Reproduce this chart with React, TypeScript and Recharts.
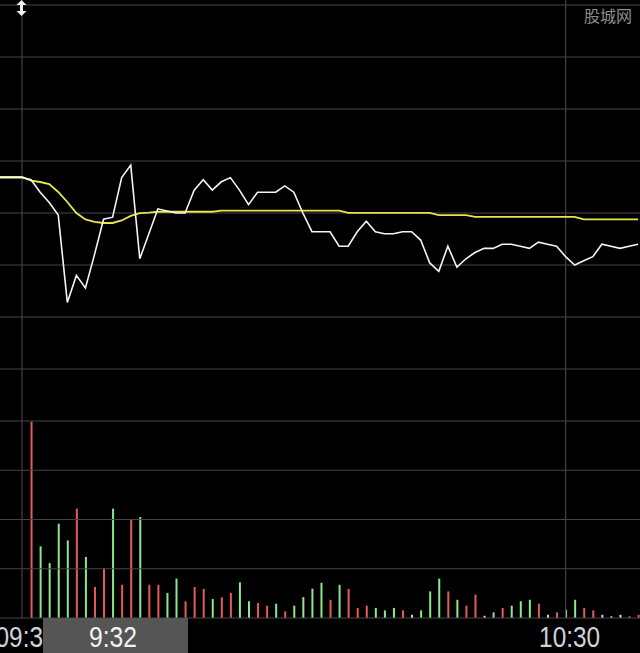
import React from "react";
import {
  ComposedChart,
  Line,
  Bar,
  Cell,
  XAxis,
  YAxis,
  ReferenceLine,
  ReferenceDot,
  Customized,
} from "recharts";

// ---- data ----
const preOpenMinute = -3; // minute offset (from 09:30) of the pre-open point
const priceTicks = [24, 24.25, 24.5, 24.75, 25, 25.25, 25.5, 25.75, 26];
const volumeTicks = [0, 1000, 2000, 3000];
const timeTicks = [0, 60];
const cursorLabel = "9:32";
const watermark = "股城网";

// price per minute, 09:30 .. 10:38
const prices = [
  25.17, 25.16, 25.1, 25.05, 24.99, 24.57, 24.7, 24.64, 24.8, 24.97,
  24.98, 25.17, 25.23, 24.78, 24.9, 25.02, 25.01, 25.0, 25.0, 25.11,
  25.16, 25.11, 25.15, 25.17, 25.11, 25.04, 25.1, 25.1, 25.1, 25.13,
  25.1, 25.0, 24.91, 24.91, 24.91, 24.84, 24.84, 24.91, 24.96, 24.91,
  24.9, 24.9, 24.91, 24.91, 24.87, 24.76, 24.72, 24.84, 24.74, 24.78,
  24.81, 24.83, 24.83, 24.85, 24.85, 24.84, 24.83, 24.86, 24.85, 24.84,
  24.79, 24.75, 24.77, 24.79, 24.85, 24.84, 24.83, 24.84, 24.85,
];

// average price per minute, 09:30 .. 10:38
const averages = [
  25.173, 25.156, 25.149, 25.139, 25.101, 25.053, 25.0, 24.969, 24.957, 24.952,
  24.952, 24.964, 24.986, 24.999, 25.002, 25.006, 25.006, 25.006, 25.006, 25.006,
  25.006, 25.006, 25.011, 25.011, 25.011, 25.011, 25.011, 25.011, 25.011, 25.011,
  25.011, 25.011, 25.011, 25.011, 25.011, 25.011, 25.001, 25.001, 25.001, 25.001,
  25.001, 25.001, 25.001, 25.001, 25.001, 25.001, 24.99, 24.99, 24.99, 24.99,
  24.981, 24.981, 24.981, 24.981, 24.981, 24.981, 24.981, 24.981, 24.981, 24.981,
  24.981, 24.981, 24.969, 24.969, 24.969, 24.969, 24.969, 24.969, 24.969,
];

// volume per minute, 09:31 .. 10:38
const volumes = [
  3990, 1455, 1115, 1915, 1575, 2220, 1240, 630, 1015, 2220,
  675, 2010, 2050, 675, 675, 510, 800, 340, 630, 590,
  385, 420, 510, 725, 340, 305, 250, 290, 135, 250,
  425, 595, 715, 370, 675, 590, 205, 250, 205, 155,
  205, 155, 65, 155, 540, 800, 540, 370, 250, 475,
  45, 115, 205, 250, 340, 370, 290, 65, 115, 170,
  370, 205, 155, 65, 35, 65, 35, 65,
];

// r = up, g = down, w = flat ; 09:31 .. 10:38
const volumeDirections =
  "rggggrgrrg" +
  "rrgrrggrrr" +
  "grrggrrgrg" +
  "gggrgrrrgg" +
  "grwgggrgrr" +
  "wgrgggrwrg" +
  "grrwwwrr";

const dirColor: Record<string, string> = {
  r: "#e45c5c",
  g: "#8ce88c",
  w: "#dcdcdc",
};

const data = [
  { minute: preOpenMinute, price: prices[0], avg: averages[0] },
  ...prices.map((p, i) => ({
    minute: i,
    price: p,
    avg: averages[i],
    vol: i === 0 ? null : volumes[i - 1],
    dir: i === 0 ? "w" : volumeDirections[i - 1],
  })),
];

const fmtTime = (m: number) => {
  const total = 9 * 60 + 30 + m;
  const h = Math.floor(total / 60);
  const mm = total % 60;
  return `${String(h).padStart(2, "0")}:${String(mm).padStart(2, "0")}`;
};

const GRID = "#444444";
const FONT = "'Liberation Sans', Arial, sans-serif";

// cursor read-out box geometry (pixels)
const BOX_X = 43;
const BOX_W = 145;

const TimeTick = (props: any) => {
  const { x, y, payload } = props;
  const cx = x + 4;
  const overlaps = cx - 31 < BOX_X + BOX_W && cx + 31 > BOX_X;
  return (
    <g>
      <defs>
        <clipPath id="tickOutsideBox">
          <rect x={-200} y={0} width={200 + BOX_X} height={700} />
          <rect x={BOX_X + BOX_W} y={0} width={800} height={700} />
        </clipPath>
      </defs>
      <text
        x={cx}
        y={y + 29}
        textAnchor="middle"
        fill="#cfd3d8"
        fontSize={29}
        fontFamily={FONT}
        textLength={61}
        lengthAdjust="spacingAndGlyphs"
        clipPath={overlaps ? "url(#tickOutsideBox)" : undefined}
      >
        {fmtTime(payload.value)}
      </text>
    </g>
  );
};

// cursor time read-out drawn as the x-axis label
const CursorBox = (props: any) => {
  const vb = props.viewBox || { x: 0, y: 618 };
  const top = vb.y;
  return (
    <g>
      <rect x={BOX_X} y={top} width={BOX_W} height={35} fill="#555555" />
      <text
        x={113}
        y={top + 29}
        textAnchor="middle"
        fill="#f2f2f2"
        fontSize={29}
        fontFamily={FONT}
        textLength={48}
        lengthAdjust="spacingAndGlyphs"
      >
        {cursorLabel}
      </text>
    </g>
  );
};

const ArrowMark = (props: any) => {
  const { cx, cy } = props;
  const x = cx - 0.5;
  const t = cy - 5;
  return (
    <path
      d={`M${x} ${t} L${x + 5} ${t + 5} L${x + 1.5} ${t + 5} L${x + 1.5} ${t + 11} L${x + 5} ${t + 11} L${x} ${t + 16} L${x - 5} ${t + 11} L${x - 1.5} ${t + 11} L${x - 1.5} ${t + 5} L${x - 5} ${t + 5} Z`}
      fill="#f0f0f0"
    />
  );
};

const Watermark = () => (
  <text
    x={584}
    y={22}
    fill="#8c8c8c"
    fontSize={16}
    fontFamily="'Noto Sans CJK SC', sans-serif"
  >
    {watermark}
  </text>
);

export default function App() {
  return (
    <div
      style={{
        position: "absolute",
        left: 0,
        top: 0,
        width: 640,
        height: 653,
        background: "#000",
        overflow: "hidden",
      }}
    >
      <ComposedChart
        width={640}
        height={653}
        data={data}
        margin={{ top: 0, right: 0, bottom: 0, left: 0 }}
      >
        <XAxis
          dataKey="minute"
          type="number"
          domain={[-2.43, 68.21]}
          allowDataOverflow
          ticks={timeTicks}
          interval={0}
          height={35}
          axisLine={false}
          tickLine={false}
          tickSize={0}
          tickMargin={0}
          tick={<TimeTick />}
          label={{ content: <CursorBox /> }}
        />
        <YAxis yAxisId="price" hide domain={[23.0529, 26.024]} allowDataOverflow />
        <YAxis yAxisId="vol" hide domain={[0, 12548]} allowDataOverflow />

        {priceTicks.map((p) => (
          <ReferenceLine key={`p${p}`} yAxisId="price" y={p} stroke={GRID} strokeWidth={1.2} />
        ))}
        {volumeTicks.map((v) => (
          <ReferenceLine key={`v${v}`} yAxisId="vol" y={v} stroke={GRID} strokeWidth={1.2} />
        ))}
        {timeTicks.map((t) => (
          <ReferenceLine key={`t${t}`} yAxisId="price" x={t} stroke={GRID} strokeWidth={1.2} />
        ))}

        <Bar yAxisId="vol" dataKey="vol" barSize={2} isAnimationActive={false}>
          {data.map((d, i) => (
            <Cell key={i} fill={dirColor[(d as any).dir || "w"]} />
          ))}
        </Bar>
        <Line
          yAxisId="price"
          dataKey="avg"
          stroke="#e6e64e"
          strokeWidth={1.8}
          dot={false}
          isAnimationActive={false}
        />
        <Line
          yAxisId="price"
          dataKey="price"
          stroke="#f4f4f4"
          strokeWidth={1.6}
          dot={false}
          isAnimationActive={false}
        />
        <ReferenceDot yAxisId="price" x={0} y={26} shape={<ArrowMark />} />
        <Customized component={Watermark} />
      </ComposedChart>
    </div>
  );
}
